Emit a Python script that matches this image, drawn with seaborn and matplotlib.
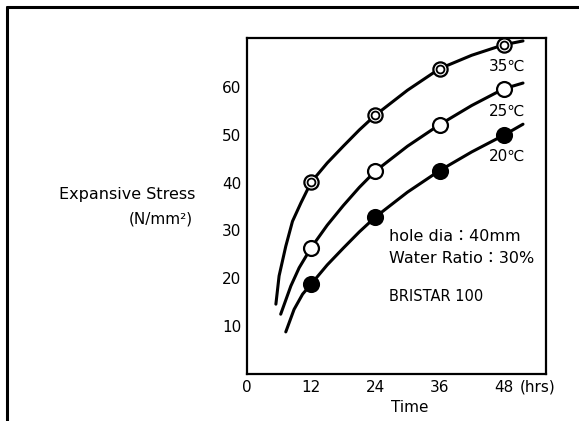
import matplotlib
matplotlib.use("Agg")
import matplotlib.pyplot as plt
import seaborn as sns
import pandas as pd
from matplotlib.lines import Line2D

# measured points (hours, N/mm2)
hours = [12, 24, 36, 48]
stress_35 = [40.1, 54.1, 63.8, 68.8]
stress_25 = [26.4, 42.4, 52.1, 59.6]
stress_20 = [18.8, 32.8, 42.5, 49.9]

# fitted curves
curve_35_x = [5.4, 6.0, 7.25, 8.5, 10.1, 12, 15, 18, 21, 24, 30, 36, 42, 48, 51.6]
curve_35_y = [14.6, 20.5, 26.7, 31.9, 35.8, 40.1, 44.1, 47.6, 51.0, 54.1, 59.3, 63.8, 66.6, 68.8, 69.6]
curve_25_x = [6.3, 8.2, 9.75, 12, 15, 18, 21, 24, 30, 36, 42, 48, 51.6]
curve_25_y = [12.5, 18.4, 22.2, 26.4, 31.1, 35.2, 39.0, 42.4, 47.6, 52.1, 56.1, 59.6, 60.8]
curve_20_x = [7.25, 8.8, 10.4, 12, 15, 18, 21, 24, 30, 36, 42, 48, 51.6]
curve_20_y = [8.8, 13.5, 16.7, 18.8, 22.8, 26.3, 29.7, 32.8, 38.0, 42.5, 46.4, 49.9, 52.2]

x_ticks = [0, 12, 24, 36, 48]
y_ticks = [10, 20, 30, 40, 50, 60]

sns.set_theme(style="white")
plt.rcParams['font.family'] = ['DejaVu Sans', 'Noto Sans CJK JP']
plt.rcParams['text.color'] = 'black'

fig = plt.figure(figsize=(5.79, 4.21), dpi=100)
ax = fig.add_axes([0.4266, 0.1116, 0.5164, 0.798])

curves = pd.DataFrame({
    'x': curve_35_x + curve_25_x + curve_20_x,
    'y': curve_35_y + curve_25_y + curve_20_y,
    'temp': ['35'] * len(curve_35_x) + ['25'] * len(curve_25_x) + ['20'] * len(curve_20_x),
})
sns.lineplot(data=curves, x='x', y='y', units='temp', estimator=None, sort=False,
             color='black', linewidth=2.2, ax=ax, legend=False)

# markers
sns.scatterplot(x=hours, y=stress_35, s=105, color='white', edgecolor='black',
                linewidth=1.6, ax=ax, zorder=3)
sns.scatterplot(x=hours, y=stress_35, s=32, color='white', edgecolor='black',
                linewidth=1.3, ax=ax, zorder=4)
sns.scatterplot(x=hours, y=stress_25, s=115, color='white', edgecolor='black',
                linewidth=1.6, ax=ax, zorder=3)
sns.scatterplot(x=hours, y=stress_20, s=115, color='black', edgecolor='black',
                linewidth=1.6, ax=ax, zorder=3)

ax.set_xlim(0, 55.9)
ax.set_ylim(0, 70.2)
ax.set_xticks(x_ticks)
ax.set_yticks(y_ticks)
ax.tick_params(direction='in', length=5, width=1.3, labelsize=11, colors='black', pad=4)
for s in ax.spines.values():
    s.set_color('black')
    s.set_linewidth(1.6)
ax.set_xlabel('')
ax.set_ylabel('')

fig.text(538 / 579, 1 - 387 / 421, '(hrs)', fontsize=11, ha='center', va='center')
fig.text(410 / 579, 1 - 408 / 421, 'Time', fontsize=11, ha='center', va='center')

# temperature labels
ax.text(48.6, 64.2, '35℃', fontsize=11, ha='center', va='center')
ax.text(48.6, 54.8, '25℃', fontsize=11, ha='center', va='center')
ax.text(48.6, 45.4, '20℃', fontsize=11, ha='center', va='center')

ax.text(26.6, 28.75, 'hole dia：40mm', fontsize=11.5, ha='left', va='center')
ax.text(26.6, 24.2, 'Water Ratio：30%', fontsize=11.5, ha='left', va='center')
ax.text(26.6, 16.25, 'BRISTAR 100', fontsize=10.5, ha='left', va='center')

fig.text(127 / 579, 1 - 195 / 421, 'Expansive Stress', fontsize=11.5, ha='center', va='center')
fig.text(193 / 579, 1 - 219 / 421, '(N/mm²)', fontsize=11, ha='right', va='center')

# outer frame (top and left edges only)
fig.add_artist(Line2D([7 / 579, 1.0], [1 - 7 / 421, 1 - 7 / 421], transform=fig.transFigure,
                      color='black', linewidth=2.2))
fig.add_artist(Line2D([7 / 579, 7 / 579], [0, 1 - 7 / 421], transform=fig.transFigure,
                      color='black', linewidth=2.2))

fig.savefig('out.png', dpi=100)
